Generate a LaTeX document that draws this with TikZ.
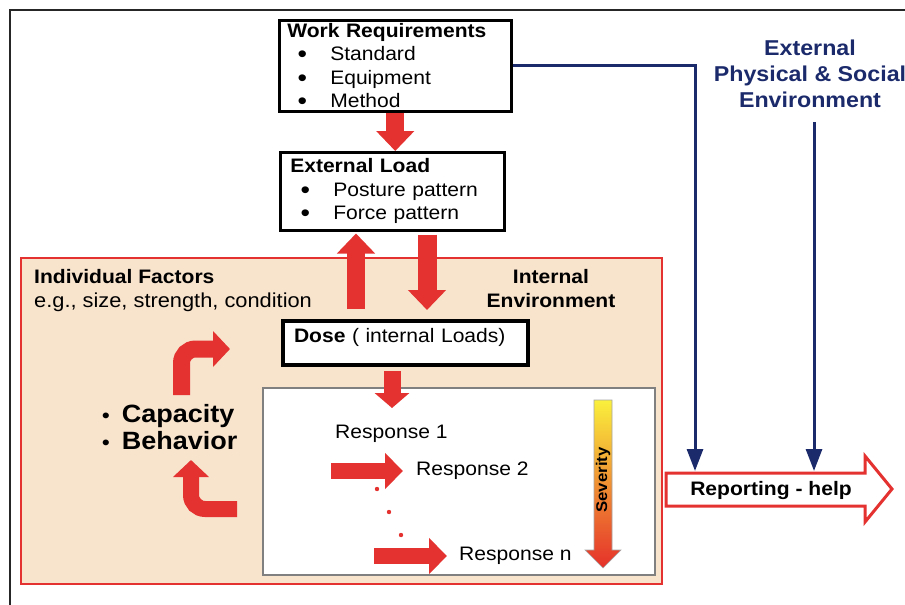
\documentclass[tikz,border=0pt]{standalone}
\usepackage{fontspec}
\setmainfont{Liberation Sans}[FakeStretch=1.08]
\usetikzlibrary{arrows.meta}

\definecolor{navy}{HTML}{1B2A6B}
\definecolor{bred}{HTML}{E3322F}
\definecolor{beige}{HTML}{F8E3CD}
\definecolor{sevyellow}{HTML}{FAF03C}
\definecolor{sevorange}{HTML}{F39A2E}
\definecolor{sevred}{HTML}{E5302A}

\newcommand{\bitem}[1]{\makebox[30pt][c]{\smash{\raisebox{-2pt}{\fontsize{25}{25}\selectfont\textbullet}}}\hspace{13pt}#1}
\newcommand{\dotitem}{\smash{\fontsize{20}{20}\selectfont\textbullet}\hspace{12pt}}

\begin{document}
\begin{tikzpicture}[x=1pt, y=-1pt,
    txt/.style = {font=\fontsize{19.5}{23.5}\selectfont, inner sep=0pt},
    box/.style = {txt, draw, fill=white, line width=2.5pt, anchor=north west, align=left, inner xsep=8pt, inner ysep=0pt},
    bigarrow/.style = {bred, line width=18pt, -{Triangle[length=20pt, width=37pt]}},
    smallarrow/.style = {bred, line width=16pt, -{Triangle[length=18pt, width=35pt]}},
    navyarrow/.style = {navy, line width=3pt, -{Triangle[length=22pt, width=16pt]}} ]
    \useasboundingbox (0, 0) rectangle (905, 605);
    \draw[line width=2.5pt, black!85] (10, 605) -- (10, 10) -- (905, 10);

    % internal environment
    \draw[bred, line width=2pt, fill=beige] (21, 258) rectangle (662, 584);
    \draw[gray, line width=1.5pt, fill=white] (263, 388) rectangle (655, 575);

    \node at (278, 19) [box, text width=216pt, minimum height=91pt] (wr)
        {\textbf{Work Requirements}\\ \bitem{Standard}\\ \bitem{Equipment}\\ \bitem{Method}};
    \node at (279, 151) [box, inner xsep=10pt, text width=204pt, minimum height=78pt] (load)
        {\textbf{External Load}\\ \bitem{Posture pattern}\\ \bitem{Force pattern}};
    \node at (281, 319) [box, line width=4pt, inner xsep=11pt, text width=223pt, text height=14.5pt, text depth=15pt, minimum height=44pt] (dose)
        {\textbf{Dose} ( internal Loads)};

    \node at (34, 269) [txt, anchor=north west, align=left, font=\fontsize{19.5}{24}\selectfont] (indiv)
        {\textbf{Individual Factors}\\ {\fontsize{20.2}{24}\selectfont e.g., size, strength, condition}};
    \node at (551, 269) [txt, anchor=north, align=center, font=\fontsize{19.5}{24}\selectfont\bfseries] (intenv)
        {Internal\\ Environment};
    \node at (102, 404) [txt, anchor=north west, align=left, font=\fontsize{25}{27}\selectfont\bfseries] (cap)
        {\dotitem Capacity\\ \dotitem Behavior};
    \node at (810, 40) [anchor=north, inner sep=0pt, navy, align=center, font=\fontsize{21.5}{26}\selectfont\bfseries] (env)
        {External\\ Physical \& Social\\ Environment};

    \node at (335, 438) [txt, anchor=base west] (r1) {Response 1};
    \node at (416, 475) [txt, anchor=base west] (r2) {Response 2};
    \node at (459, 560) [txt, anchor=base west] (rn) {Response n};
    \foreach \x/\y in {377/489, 389/512, 401/535}
        \fill[bred] (\x, \y) circle (2.2);

    % severity scale
    \shadedraw[top color=sevyellow, middle color=sevorange, bottom color=sevred, draw=gray!70, line width=0.6pt]
        (594, 400) -- (612, 400) -- (612, 550) -- (621, 550) -- (603, 568) -- (585, 550) -- (594, 550) -- cycle;
    \node at (603, 480) [rotate=90, font=\fontsize{15.5}{16}\selectfont\bfseries] (sev) {Severity};

    % reporting
    \draw[bred, line width=3pt, fill=white]
        (666, 473) -- (865, 473) -- (865, 456) -- (892, 489) -- (865, 522) -- (865, 506) -- (666, 506) -- cycle;
    \node at (771, 490) [font=\fontsize{19.5}{20}\selectfont\bfseries] (rep) {Reporting - help};

    \coordinate (up) at (356, 0);
    \coordinate (dn) at (427, 0);
    \coordinate (dr) at (392, 408);
    \coordinate (s2) at (331, 471);
    \coordinate (sn) at (374, 556);
    \coordinate (in1) at (695, 471);
    \coordinate (in2) at (814, 471);

    \draw[bigarrow] (wr.south) -- (wr.south |- load.north);
    \draw[bigarrow, shorten <=10pt, shorten >=2pt] (dose.north -| up) -- (load.south -| up);
    \draw[bigarrow, line width=19pt, shorten <=3pt, shorten >=9pt] (load.south -| dn) -- (dose.north -| dn);
    \draw[smallarrow, line width=17pt, -{Triangle[length=15pt, width=34pt]}, shorten <=4pt] (dose.south -| dr) -- (dr);
    \draw[smallarrow, shorten >=13pt] (s2) -- (r2.west |- s2);
    \draw[smallarrow, shorten >=12pt] (sn) -- (rn.west |- sn);
    \draw[smallarrow, line width=17pt, -{Triangle[length=17pt, width=35pt]}, rounded corners=14pt] (181.5, 395) |- (230, 349);
    \draw[smallarrow, -{Triangle[length=17pt, width=35pt]}, rounded corners=14pt] (237, 509) -| (191, 460);

    \draw[navyarrow] (wr.east) -| (in1);
    \draw[navyarrow, shorten <=14pt] (env.south -| in2) -- (in2);
\end{tikzpicture}
\end{document}
